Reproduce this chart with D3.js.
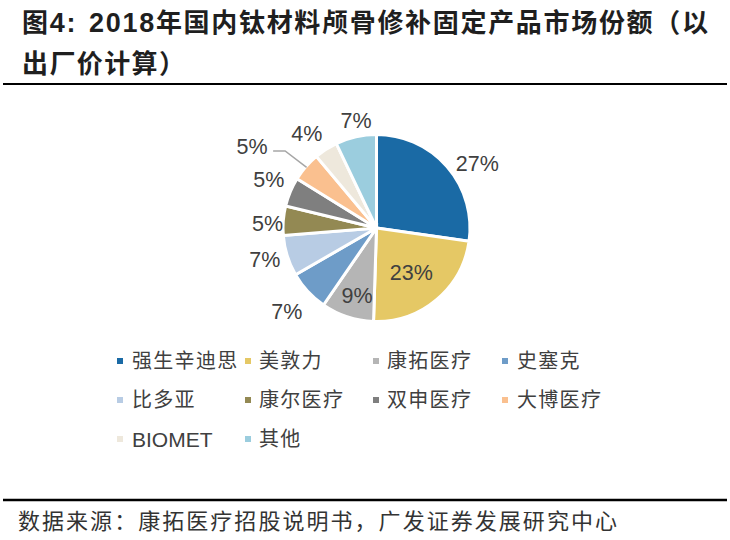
<!DOCTYPE html>
<html><head><meta charset="utf-8">
<script src="https://cdn.jsdelivr.net/npm/d3@7/dist/d3.min.js"></script>
<style>body{margin:0;background:#fff}svg{display:block}</style>
</head><body>
<script>
const categories = ["强生辛迪思","美敦力","康拓医疗","史塞克","比多亚","康尔医疗","双申医疗","大博医疗","BIOMET","其他"];
const values = [27,23,9,7,7,5,5,5,4,7];
const colors = ["#1A6AA5","#E5C865","#B5B5B5","#6E9CC8","#B8CCE4","#938953","#7F7F7F","#FAC08F","#EEE8DC","#9BCDDE"];
const titleLines = ["图4: 2018年国内钛材料颅骨修补固定产品市场份额（以","出厂价计算）"];
const source = "数据来源：康拓医疗招股说明书，广发证券发展研究中心";

const W=730,H=540;
const svg=d3.select("body").append("svg").attr("width",W).attr("height",H);

// Title
const t1=svg.append("text").attr("x",22).attr("y",32).attr("fill","#1f1f1f")
 .attr("font-family","'Noto Sans CJK SC',sans-serif").attr("font-weight","bold").attr("font-size",26)
 .attr("textLength",686).attr("lengthAdjust","spacing");
t1.append("tspan").text("图");
t1.append("tspan").attr("font-family","'Liberation Sans',Arial,sans-serif").attr("font-size",27).text("4:");
t1.append("tspan").attr("dx",12).attr("font-family","'Liberation Sans',Arial,sans-serif").attr("font-size",27).text("2018");
t1.append("tspan").text("年国内钛材料颅骨修补固定产品市场份额（以");
svg.append("text").attr("x",22).attr("y",73).attr("fill","#1f1f1f")
 .attr("font-family","'Noto Sans CJK SC',sans-serif").attr("font-weight","bold").attr("font-size",26)
 .attr("textLength",163).attr("lengthAdjust","spacing").text(titleLines[1]);

svg.append("line").attr("x1",3).attr("x2",727).attr("y1",84).attr("y2",84).attr("stroke","#000").attr("stroke-width",2.2);
svg.append("line").attr("x1",3).attr("x2",727).attr("y1",500).attr("y2",500).attr("stroke","#000").attr("stroke-width",2.5);

svg.append("text").attr("x",18).attr("y",529).attr("fill","#333")
 .attr("font-family","'Noto Sans CJK SC',serif").attr("font-size",22)
 .attr("textLength",599).attr("lengthAdjust","spacing").text(source);

// Pie
const cx=376.5, cy=228, R=93.5;
const data=categories.map((c,i)=>({name:c,value:values[i],color:colors[i]}));
const pie=d3.pie().value(d=>d.value).sort(null);
const arcs=pie(data);
const arc=d3.arc().innerRadius(0).outerRadius(R);
const g=svg.append("g").attr("transform",`translate(${cx},${cy})`);
g.selectAll("path").data(arcs).join("path").attr("d",arc).attr("fill",d=>d.data.color)
 .attr("stroke","#fff").attr("stroke-width",3).attr("stroke-linejoin","miter");

// label placement (radius, angle offset in degrees) per slice
const labelLayout=[[120,8],[56,1.5],[70,-2],[122,0],[116,1.5],[109,-2],[118,1.5],[149,-7.5],[118,-3.5],[110,2]];
function pt(a,r){return [Math.sin(a)*r,-Math.cos(a)*r];}
arcs.forEach((d,i)=>{
  const mid=(d.startAngle+d.endAngle)/2;
  const [r,off]=labelLayout[i];
  const p=pt(mid+off*Math.PI/180,r);
  g.append("text").attr("x",p[0]).attr("y",p[1]).attr("dy","0.36em").attr("text-anchor","middle")
   .attr("font-family","'Liberation Sans',Arial,sans-serif").attr("font-size",21.5).attr("fill","#404040")
   .text(d.data.value+"%");
  if(i===7){
    const e=pt(mid,R-1);
    const lx=p[0]+21, ly=p[1]+5;
    g.append("polyline").attr("points",`${lx},${ly} ${lx+12},${ly} ${e[0]},${e[1]}`)
     .attr("fill","none").attr("stroke","#A6A6A6").attr("stroke-width",1.5);
  }
});

// Legend
const colX=[[117,132],[245,259],[373,387],[502,517]];
const rowY=[361,400,439];
const lg=svg.append("g");
data.forEach((d,i)=>{
  const c=i%4, r=Math.floor(i/4);
  const [sx,tx]=colX[c]; const y=rowY[r];
  lg.append("rect").attr("x",sx).attr("y",y-3).attr("width",6).attr("height",6).attr("fill",d.color);
  const isLatin=/^[A-Z]+$/.test(d.name);
  lg.append("text").attr("x",tx).attr("y",y).attr("dy","0.36em").attr("fill","#404040")
   .attr("font-family",isLatin?"'Liberation Sans',Arial,sans-serif":"'Noto Sans CJK SC',serif")
   .attr("font-size",isLatin?21:20).attr("letter-spacing",isLatin?0:1.3).text(d.name);
});
</script>
</body></html>
